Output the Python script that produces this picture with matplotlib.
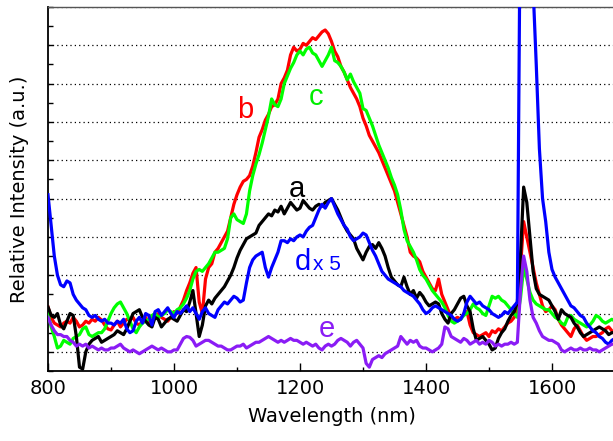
import numpy as np
import matplotlib
matplotlib.use("Agg")
import matplotlib.pyplot as plt
from matplotlib.ticker import MultipleLocator, NullFormatter

# Wavelength grid (nm), 5 nm sampling from 800 to 1700
wavelength = np.arange(800, 1701, 5)

# Curve b (red)
b_red = [
    1.17, 0.90, 0.75, 0.70, 0.65, 0.75, 0.80, 0.75, 0.90, 0.80,
    0.65, 0.70, 0.80, 0.75, 0.85, 0.80, 0.90, 0.83, 0.70, 0.60,
    0.57, 0.70, 0.80, 0.65, 0.75, 0.85, 0.83, 0.90, 0.75, 0.70,
    0.80, 0.90, 0.75, 0.80, 0.95, 1.00, 0.90, 0.85, 0.80, 0.90,
    1.05, 1.00, 1.17, 1.35, 1.60, 1.80, 2.05, 2.20, 1.30, 1.00,
    1.90, 2.20, 2.30, 2.60, 2.70, 2.85, 3.00, 3.15, 3.50, 3.85,
    4.10, 4.30, 4.45, 4.50, 4.60, 4.85, 5.20, 5.60, 5.80, 6.05,
    6.20, 6.40, 6.45, 6.60, 7.00, 7.15, 7.35, 7.75, 7.95, 7.85,
    7.90, 8.05, 8.00, 8.10, 8.20, 8.15, 8.25, 8.35, 8.40, 8.30,
    8.10, 7.85, 7.70, 7.45, 7.30, 7.10, 6.90, 6.75, 6.60, 6.40,
    6.10, 5.90, 5.65, 5.50, 5.35, 5.20, 5.00, 4.80, 4.60, 4.40,
    4.20, 3.90, 3.60, 3.30, 3.00, 2.60, 2.50, 2.45, 2.35, 2.10,
    1.95, 1.80, 1.65, 1.60, 1.90, 1.50, 1.30, 1.10, 0.90, 0.85,
    0.90, 0.85, 1.00, 1.05, 0.70, 0.50, 0.45, 0.40, 0.45, 0.50,
    0.40, 0.55, 0.50, 0.60, 0.55, 0.65, 0.75, 0.80, 0.90, 1.10,
    2.20, 3.40, 3.00, 2.60, 2.20, 1.80, 1.50, 1.20, 1.05, 1.10,
    1.20, 1.10, 0.85, 0.70, 0.60, 0.50, 0.40, 0.60, 0.70, 0.55,
    0.40, 0.30, 0.35, 0.40, 0.40, 0.45, 0.50, 0.60, 0.65, 0.55,
    0.50,
]

# Curve c (green)
c_green = [
    1.00, 0.65, 0.40, 0.10, 0.15, 0.30, 0.25, 0.20, 0.35, 0.40,
    0.45, 0.60, 0.65, 0.45, 0.40, 0.45, 0.50, 0.50, 0.60, 0.80,
    1.00, 1.15, 1.25, 1.30, 1.15, 1.00, 0.80, 0.60, 0.50, 0.65,
    0.75, 0.80, 0.85, 0.95, 1.00, 0.90, 0.95, 1.00, 1.10, 1.05,
    1.00, 1.10, 1.15, 1.25, 1.40, 1.60, 1.90, 2.10, 2.15, 2.10,
    2.20, 2.30, 2.45, 2.60, 2.60, 2.65, 2.70, 2.95, 3.50, 3.60,
    3.45, 3.40, 3.35, 3.60, 4.20, 4.60, 4.90, 5.15, 5.45, 5.80,
    6.15, 6.60, 6.45, 6.40, 6.60, 7.00, 7.20, 7.40, 7.55, 7.75,
    7.85, 7.75, 7.90, 7.95, 7.80, 7.75, 7.60, 7.45, 7.60, 7.75,
    7.95, 7.60, 7.55, 7.45, 7.30, 7.10, 7.25, 7.05, 6.90, 6.75,
    6.35, 6.30, 6.10, 5.90, 5.65, 5.40, 5.20, 5.00, 4.80, 4.55,
    4.35, 4.10, 3.70, 3.20, 2.90, 2.75, 2.60, 2.40, 2.15, 2.00,
    1.90, 1.75, 1.60, 1.50, 1.40, 1.30, 1.15, 0.95, 0.80, 0.75,
    0.80, 0.85, 0.95, 1.00, 1.10, 1.25, 1.15, 1.10, 1.00, 0.95,
    1.20, 1.45, 1.40, 1.45, 1.35, 1.30, 1.20, 1.10, 1.00, 0.90,
    1.40, 2.20, 1.90, 1.55, 1.35, 1.25, 1.20, 1.15, 1.10, 1.10,
    1.00, 0.90, 0.85, 0.75, 0.70, 0.90, 0.95, 0.85, 0.80, 0.75,
    0.70, 0.65, 0.70, 0.80, 0.95, 0.90, 0.80, 0.75, 0.80, 0.85,
    0.80,
]

# Curve a (black)
a_black = [
    1.17, 0.95, 0.90, 1.00, 0.70, 0.60, 0.80, 1.00, 0.95, 0.40,
    -0.40, -0.45, 0.00, 0.20, 0.30, 0.35, 0.40, 0.25, 0.30, 0.35,
    0.40, 0.45, 0.55, 0.50, 0.45, 0.60, 0.80, 1.00, 1.05, 1.10,
    0.90, 0.80, 0.70, 0.65, 0.90, 0.85, 0.65, 0.75, 0.85, 0.90,
    0.85, 0.80, 0.95, 1.10, 1.05, 1.30, 1.60, 1.00, 0.40, 0.70,
    1.20, 1.35, 1.25, 1.40, 1.50, 1.60, 1.70, 1.85, 2.00, 2.20,
    2.45, 2.65, 2.80, 2.95, 3.00, 3.05, 3.10, 3.30, 3.40, 3.50,
    3.60, 3.55, 3.70, 3.65, 3.80, 3.60, 3.75, 3.90, 3.80, 3.70,
    3.75, 3.95, 3.85, 3.75, 3.70, 3.80, 3.85, 3.80, 3.90, 3.95,
    4.00, 3.85, 3.70, 3.50, 3.30, 3.15, 3.05, 2.95, 2.70, 2.55,
    2.40, 2.60, 2.75, 2.80, 2.70, 2.85, 2.70, 2.50, 2.20, 1.95,
    1.85, 1.75, 1.70, 1.95, 1.70, 1.50, 1.60, 1.40, 1.55, 1.45,
    1.30, 1.20, 1.25, 1.30, 1.25, 1.00, 0.85, 0.75, 1.00, 1.10,
    1.25, 1.40, 1.45, 1.20, 1.05, 0.60, 0.30, 0.35, 0.40, 0.30,
    0.20, 0.05, 0.10, 0.35, 0.50, 0.60, 0.80, 0.95, 1.05, 1.30,
    2.50, 4.30, 3.90, 3.00, 2.10, 1.65, 1.50, 1.45, 1.40, 1.35,
    1.20, 1.05, 0.85, 1.10, 1.00, 0.95, 0.90, 0.75, 0.65, 0.50,
    0.40, 0.45, 0.50, 0.55, 0.60, 0.65, 0.60, 0.55, 0.45, 0.50,
    0.50,
]

# Curve d x 5 (blue)
d_blue = [
    4.10, 3.30, 2.50, 2.00, 1.75, 1.70, 1.85, 1.80, 1.50, 1.35,
    1.25, 1.15, 1.10, 0.95, 0.90, 0.95, 0.85, 0.80, 0.85, 0.75,
    0.75, 0.70, 0.80, 0.75, 0.85, 0.60, 0.50, 0.55, 0.80, 0.90,
    0.75, 1.00, 0.95, 0.70, 1.05, 1.10, 0.95, 1.05, 1.15, 1.00,
    0.90, 1.05, 1.00, 1.10, 1.20, 1.05, 1.15, 1.00, 0.85, 1.05,
    1.15, 1.00, 0.95, 0.90, 1.10, 1.20, 1.30, 1.25, 1.35, 1.45,
    1.40, 1.30, 1.35, 1.80, 2.20, 2.40, 2.50, 2.55, 2.60, 2.20,
    1.95, 2.20, 2.40, 2.60, 2.90, 2.90, 2.85, 2.95, 2.90, 3.00,
    3.05, 3.00, 3.15, 3.25, 3.30, 3.50, 3.70, 3.85, 3.75, 3.90,
    4.00, 3.80, 3.60, 3.45, 3.30, 3.20, 3.00, 2.90, 2.95, 3.00,
    3.10, 3.05, 2.85, 2.65, 2.50, 2.30, 2.10, 2.00, 1.90, 1.85,
    1.80, 1.75, 1.70, 1.60, 1.55, 1.50, 1.45, 1.35, 1.25, 1.10,
    1.00, 1.05, 1.15, 1.20, 1.15, 1.10, 1.05, 1.00, 0.95, 0.85,
    0.80, 0.85, 1.00, 1.30, 1.45, 1.35, 1.25, 1.30, 1.20, 1.15,
    1.10, 1.00, 0.95, 0.90, 0.95, 1.05, 1.00, 1.10, 1.20, 1.30,
    12.50, 15.50, 14.00, 11.50, 9.50, 7.50, 5.30, 4.00, 3.40, 2.60,
    2.15, 1.95, 1.80, 1.65, 1.50, 1.35, 1.20, 1.15, 1.05, 0.95,
    0.90, 0.75, 0.65, 0.55, 0.50, 0.40, 0.35, 0.25, 0.20, 0.30,
    0.35,
]

# Curve e (purple)
e_purple = [
    0.90, 0.70, 0.55, 0.45, 0.45, 0.40, 0.40, 0.30, 0.25, 0.15,
    0.20, 0.15, 0.20, 0.10, 0.15, 0.10, 0.05, 0.10, 0.05, 0.05,
    0.10, 0.10, 0.15, 0.20, 0.10, 0.05, 0.00, 0.05, 0.00, -0.05,
    0.00, 0.05, 0.10, 0.15, 0.10, 0.05, 0.10, 0.05, 0.00, 0.00,
    0.05, 0.05, 0.20, 0.35, 0.40, 0.38, 0.30, 0.15, 0.20, 0.25,
    0.30, 0.30, 0.25, 0.20, 0.15, 0.15, 0.10, 0.05, 0.05, 0.10,
    0.15, 0.15, 0.20, 0.10, 0.15, 0.20, 0.25, 0.25, 0.30, 0.35,
    0.40, 0.35, 0.30, 0.25, 0.30, 0.25, 0.30, 0.35, 0.30, 0.30,
    0.25, 0.20, 0.25, 0.20, 0.15, 0.20, 0.10, 0.05, 0.15, 0.20,
    0.15, 0.20, 0.30, 0.35, 0.30, 0.25, 0.15, 0.25, 0.30, 0.20,
    0.10, -0.30, -0.40, -0.20, -0.15, -0.10, -0.15, -0.05, 0.00, 0.05,
    0.10, 0.15, 0.40, 0.30, 0.20, 0.30, 0.25, 0.30, 0.15, 0.10,
    0.10, 0.05, 0.00, 0.05, 0.10, 0.20, 0.65, 0.60, 0.40, 0.35,
    0.30, 0.25, 0.35, 0.30, 0.20, 0.25, 0.30, 0.20, 0.25, 0.20,
    0.30, 0.25, 0.15, 0.20, 0.15, 0.20, 0.20, 0.25, 0.20, 0.25,
    1.60, 2.50, 2.10, 1.35, 0.90, 0.75, 0.55, 0.40, 0.35, 0.30,
    0.30, 0.25, 0.20, 0.05, 0.00, 0.05, 0.10, 0.05, 0.05, 0.10,
    0.05, 0.05, 0.10, 0.05, 0.05, 0.00, 0.05, 0.10, 0.15, 0.20,
    0.20,
]

x_ticks = [800, 1000, 1200, 1400, 1600]
x_tick_labels = ["800", "1000", "1200", "1400", "1600"]

for s in (b_red, c_green, a_black, d_blue, e_purple):
    assert len(s) == len(wavelength), len(s)

fig = plt.figure(figsize=(6.13, 4.41), dpi=100)
ax = fig.add_axes([48 / 613, 1 - 371 / 441, 567 / 613, 364 / 441])

lw = 2.3
ax.plot(wavelength, b_red, color="#ff0000", lw=lw, zorder=3)
ax.plot(wavelength, c_green, color="#00ff00", lw=lw, zorder=4)
ax.plot(wavelength, a_black, color="#000000", lw=lw, zorder=5)
ax.plot(wavelength, d_blue, color="#0000ff", lw=lw, zorder=6)
ax.plot(wavelength, e_purple, color="#8a1cf5", lw=lw, zorder=7)

ax.set_xlim(800, 1700)
ax.set_ylim(-0.5, 9.0)

ax.set_xticks(x_ticks)
ax.set_xticklabels(x_tick_labels)
ax.xaxis.set_minor_locator(MultipleLocator(100))
ax.yaxis.set_major_locator(MultipleLocator(1))
ax.yaxis.set_minor_locator(MultipleLocator(0.5))
ax.yaxis.set_major_formatter(NullFormatter())

ax.tick_params(axis="both", which="both", direction="in", top=False, right=False,
               width=1.0, color="black")
ax.tick_params(axis="x", which="major", length=5.5, labelsize=14, pad=6)
ax.tick_params(axis="x", which="minor", length=3)
ax.tick_params(axis="y", which="major", length=3.5)
ax.tick_params(axis="y", which="minor", length=3.5)
for lab in ax.get_xticklabels():
    lab.set_family("DejaVu Sans")

ax.grid(axis="y", which="major", color="black", linestyle=(0, (1, 2.5)), linewidth=0.9)
ax.set_axisbelow(True)

for side in ("left", "bottom"):
    ax.spines[side].set_linewidth(1.3)
ax.spines["top"].set_linewidth(1.0)
ax.spines["top"].set_color("#555555")
ax.spines["right"].set_visible(False)

ax.set_xlabel("Wavelength (nm)", fontsize=14, family="DejaVu Sans", labelpad=6)
ax.set_ylabel("Relative Intensity (a.u.)", fontsize=14, family="DejaVu Sans", labelpad=10)

afont = "Liberation Sans"
ax.text(1112.7, 6.11, "b", color="#ff0000", fontsize=21, family=afont, ha="center", va="baseline", zorder=8)
ax.text(1225, 6.45, "c", color="#00ee00", fontsize=21, family=afont, ha="center", va="baseline", zorder=8)
ax.text(1195, 4.04, "a", color="black", fontsize=21, family=afont, ha="center", va="baseline", zorder=8)
ax.text(1192, 2.14, "d", color="#0000ff", fontsize=21, family=afont, ha="left", va="baseline", zorder=8)
ax.text(1221, 2.14, "x 5", color="#0000ff", fontsize=15, family=afont, ha="left", va="baseline", zorder=8)
ax.text(1243, 0.39, "e", color="#8a1cf5", fontsize=21, family=afont, ha="center", va="baseline", zorder=8)

fig.savefig("out.png", dpi=100)
